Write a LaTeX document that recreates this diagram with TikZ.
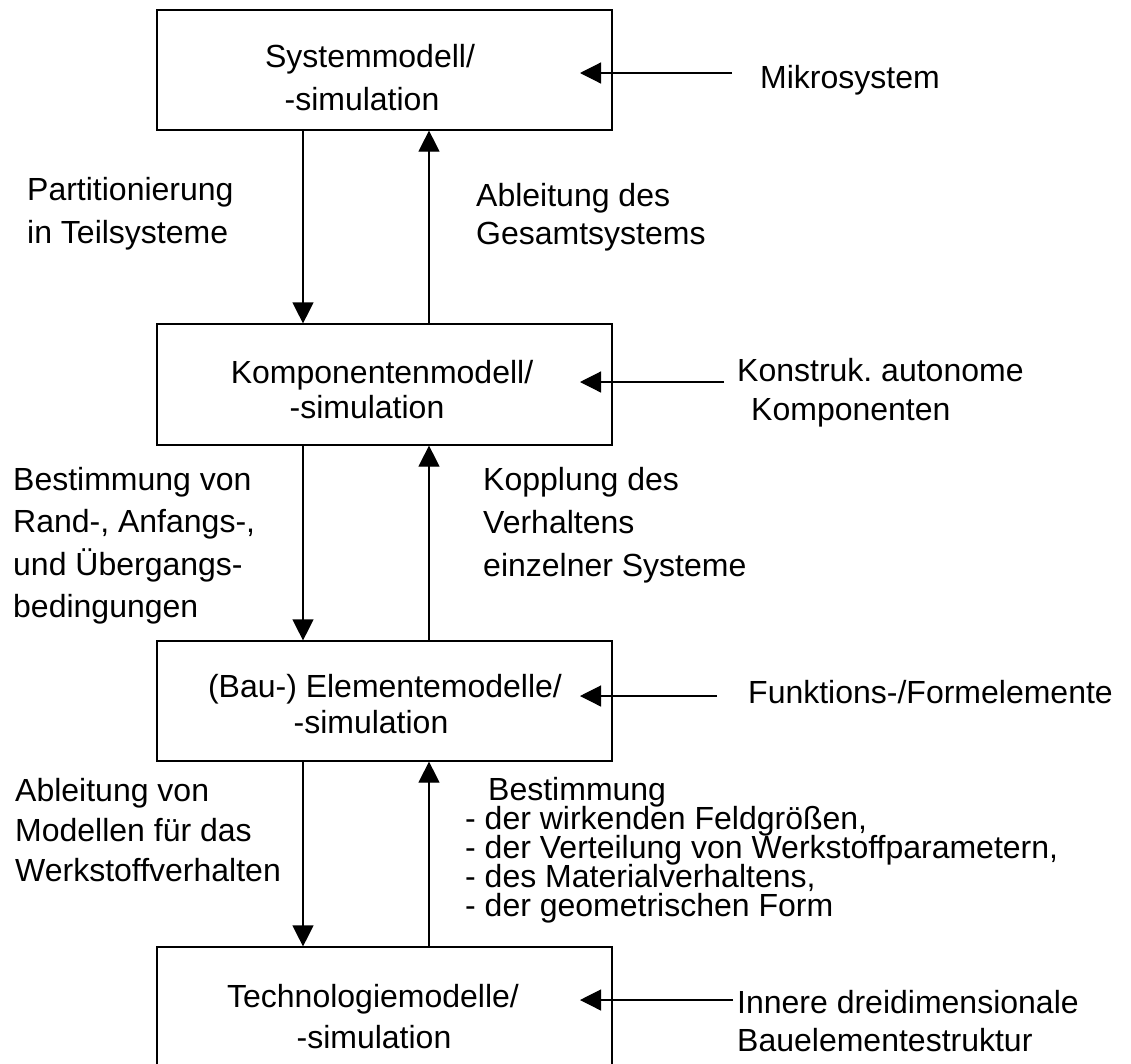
\documentclass[tikz,border=0pt]{standalone}
\usepackage{fontspec}
\setmainfont{Liberation Sans}
\usetikzlibrary{arrows.meta}
\frenchspacing
\newcommand\mlines[2]{\vtop{\baselineskip=#1\lineskiplimit=-\maxdimen\lineskip=0pt #2}}
\begin{document}
\begin{tikzpicture}[x=1pt,y=-1pt,
  box/.style={draw, line width=1.2pt, minimum width=455pt, inner sep=0pt},
  txt/.style={inner sep=0pt, font=\fontsize{32}{43}\selectfont},
  lbl/.style={txt, anchor=base west},
  ctr/.style={txt, anchor=base},
  arr/.style={line width=1.2pt, -{Triangle[length=21pt,width=21pt]}},
]
\useasboundingbox (0,0) rectangle (1131,1063);
\fill[white] (0,0) rectangle (1131,1063);
\clip (0,0) rectangle (1131,1063);

% boxes
\node[box, minimum height=120pt] (b1) at (384.5,70) {};
\node[box, minimum height=121pt] (b2) at (384.5,384.5) {};
\node[box, minimum height=120pt] (b3) at (384.5,701) {};
\node[box, minimum height=120pt] (b4) at (384.5,1007) {};

% box texts
\node[ctr] (b1a) at (370,67) {Systemmodell/};
\node[ctr] (b1b) at (362,110) {-simulation};
\node[ctr] (b2a) at (382,383) {Komponentenmodell/};
\node[ctr] (b2b) at (367,418) {-simulation};
\node[ctr] (b3a) at (385,697) {(Bau-) Elementemodelle/};
\node[ctr] (b3b) at (371,733) {-simulation};
\node[ctr] (b4a) at (373,1007) {Technologiemodelle/};
\node[ctr] (b4b) at (374,1048) {-simulation};

% vertical arrow columns
\coordinate (dl) at (303,0);
\coordinate (ul) at (429,0);
\draw[arr] (b1.south -| dl) -- (b2.north -| dl);
\draw[arr] (b2.north -| ul) -- (b1.south -| ul);
\draw[arr] (b2.south -| dl) -- (b3.north -| dl);
\draw[arr] (b3.north -| ul) -- (b2.south -| ul);
\draw[arr] (b3.south -| dl) -- (b4.north -| dl);
\draw[arr] (b4.north -| ul) -- (b3.south -| ul);

% right inputs
\coordinate (s1) at (732,73);  \coordinate (t1) at (580,73);
\coordinate (s2) at (724,382); \coordinate (t2) at (580,382);
\coordinate (s3) at (717,696); \coordinate (t3) at (580,696);
\coordinate (s4) at (733,1000); \coordinate (t4) at (580,1000);
\draw[arr] (s1) -- (t1);
\draw[arr] (s2) -- (t2);
\draw[arr] (s3) -- (t3);
\draw[arr] (s4) -- (t4);

\node[lbl] (r1) at (760,88) {Mikrosystem};
\node[lbl] (r2) at (737,381) {\mlines{39pt}{\hbox{Konstruk. autonome}\hbox{\hspace{14pt}Komponenten}}};
\node[lbl] (r3) at (748,703) {Funktions-/Formelemente};
\node[lbl] (r4) at (737,1013) {\mlines{38pt}{\hbox{Innere dreidimensionale}\hbox{Bauelementestruktur}}};

% left labels
\node[lbl] (l1) at (27,200) {\mlines{43pt}{\hbox{Partitionierung}\hbox{in Teilsysteme}}};
\node[lbl] (l2) at (13,490) {\mlines{42.5pt}{\hbox{Bestimmung von}\hbox{Rand-, Anfangs-,}\hbox{und Übergangs-}\hbox{bedingungen}}};
\node[lbl] (l3) at (15,801) {\mlines{40pt}{\hbox{Ableitung von}\hbox{Modellen für das}\hbox{Werkstoffverhalten}}};

% middle labels
\node[lbl] (m1) at (476,206) {\mlines{38pt}{\hbox{Ableitung des}\hbox{Gesamtsystems}}};
\node[lbl] (m2) at (483,490) {\mlines{43pt}{\hbox{Kopplung des}\hbox{Verhaltens}\hbox{einzelner Systeme}}};
\node[lbl] (m3) at (465,800) {\mlines{29.2pt}{\hbox{\hspace{23pt}Bestimmung}\hbox{- der wirkenden Feldgrößen,}\hbox{- der Verteilung von Werkstoffparametern,}\hbox{- des Materialverhaltens,}\hbox{- der geometrischen Form}}};
\end{tikzpicture}
\end{document}
